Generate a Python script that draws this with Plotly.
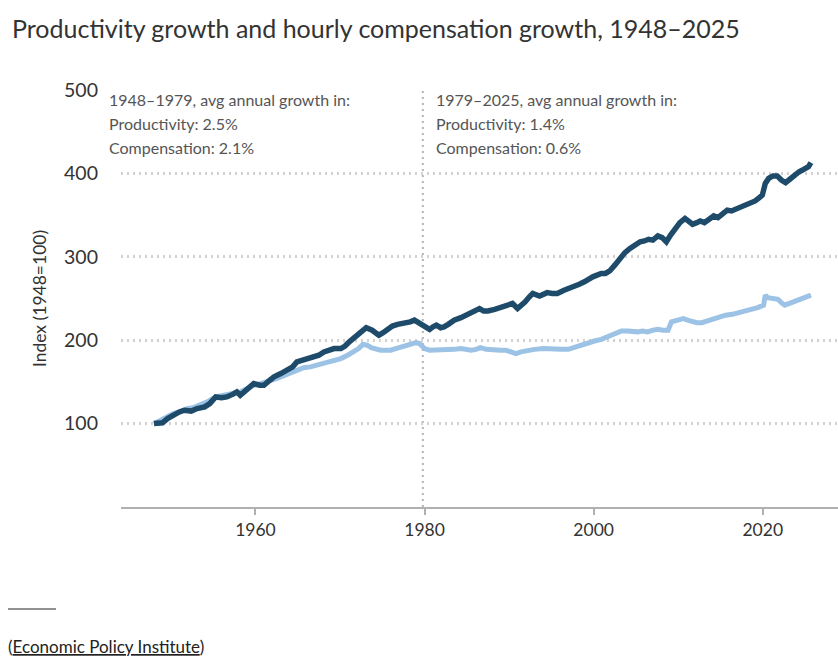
import plotly.graph_objects as go

# ---- data ----
prod_years = [1948.0, 1949.0, 1949.6, 1950.2, 1951.0, 1951.6, 1952.4, 1953.1, 1954.0, 1954.6,
              1955.3, 1956.0, 1956.6, 1957.3, 1957.8, 1958.2, 1959.0, 1959.8, 1960.5, 1961.0,
              1961.7, 1962.2, 1963.0, 1963.7, 1964.4, 1964.9, 1965.5, 1966.1, 1966.9, 1967.5,
              1968.1, 1968.7, 1969.3, 1970.1, 1970.6, 1971.1, 1971.6, 1972.1, 1972.6, 1973.1,
              1973.8, 1974.3, 1974.6, 1975.1, 1975.6, 1976.2, 1976.8, 1977.3, 1977.8, 1978.3,
              1978.8, 1979.3, 1979.8, 1980.2, 1980.6, 1981.0, 1981.4, 1981.9, 1982.3, 1982.8,
              1983.5, 1984.3, 1985.0, 1985.5, 1986.0, 1986.5, 1987.0, 1987.5, 1988.3, 1989.0,
              1989.5, 1990.0, 1990.4, 1991.0, 1991.5, 1991.9, 1992.4, 1992.8, 1993.6, 1994.1,
              1994.5, 1995.1, 1995.7, 1996.5, 1997.1, 1997.7, 1998.3, 1998.9, 1999.4, 1999.9,
              2000.4, 2000.9, 2001.4, 2001.9, 2002.5, 2003.1, 2003.7, 2004.3, 2004.9, 2005.5,
              2006.0, 2006.5, 2007.0, 2007.6, 2008.1, 2008.6, 2009.1, 2009.6, 2010.2, 2010.8,
              2011.3, 2011.7, 2012.2, 2012.6, 2013.1, 2013.6, 2014.2, 2014.7, 2015.2, 2015.8,
              2016.3, 2016.8, 2017.4, 2018.0, 2018.6, 2019.1, 2019.6, 2019.95, 2020.3, 2020.7,
              2021.2, 2021.7, 2022.2, 2022.7, 2023.2, 2023.6, 2023.9, 2024.3, 2024.7, 2025.1,
              2025.4, 2025.7]
productivity = [100, 101, 106, 110, 114, 116, 115, 118, 120, 124,
                132, 131, 132, 135, 138, 134, 142, 148, 146, 146,
                152, 156, 160, 164, 168, 174, 176, 178, 180, 182,
                186, 188, 190, 190, 193, 198, 202, 206, 210, 215,
                212, 208, 206, 209, 213, 217, 219, 220, 220, 222,
                224, 221, 218, 214, 213, 216, 218, 215, 216, 219,
                224, 227, 230, 232, 235, 238, 235, 235, 237, 239,
                240, 242, 244, 238, 242, 246, 252, 256, 253, 256,
                257, 256, 256, 260, 262, 264, 267, 270, 274, 276,
                278, 280, 280, 283, 290, 298, 305, 310, 314, 318,
                319, 321, 320, 325, 323, 318, 326, 334, 341, 346,
                341, 339, 341, 343, 341, 345, 349, 347, 352, 356,
                355, 357, 360, 363, 365, 367, 371, 374, 388, 394,
                397, 397, 392, 389, 393, 397, 399, 402, 404, 406,
                408, 413]

comp_years = [1948.0, 1948.6, 1949.1, 1949.7, 1950.3, 1951.0, 1951.9, 1952.6, 1953.5, 1954.3,
              1955.3, 1956.1, 1957.0, 1957.6, 1958.2, 1959.0, 1959.8, 1960.6, 1961.4, 1962.2,
              1963.0, 1963.9, 1964.9, 1965.7, 1966.5, 1967.3, 1968.1, 1969.0, 1970.1, 1970.9,
              1971.7, 1972.2, 1972.7, 1973.2, 1973.7, 1974.2, 1974.8, 1975.4, 1976.0, 1976.6,
              1977.2, 1977.8, 1978.4, 1979.0, 1979.4, 1980.0, 1980.6, 1981.3, 1981.9, 1982.6,
              1983.5, 1984.3, 1985.0, 1985.5, 1986.1, 1986.6, 1987.3, 1988.2, 1989.0, 1989.6,
              1990.2, 1990.8, 1991.4, 1992.2, 1993.0, 1994.1, 1995.0, 1996.1, 1997.0, 1997.6,
              1998.5, 1999.3, 2000.1, 2000.9, 2001.7, 2002.5, 2003.3, 2004.0, 2004.5, 2005.2,
              2005.8, 2006.4, 2007.0, 2007.6, 2008.2, 2008.8, 2009.2, 2009.8, 2010.6, 2011.1,
              2011.6, 2012.2, 2012.8, 2013.4, 2014.0, 2014.8, 2015.6, 2016.4, 2017.2, 2018.0,
              2018.7, 2019.4, 2020.1, 2020.3, 2020.6, 2021.1, 2021.8, 2022.2, 2022.6, 2023.4,
              2024.2, 2025.0, 2025.7]
compensation = [100, 103, 106, 110, 112, 114, 118, 119, 122, 126,
                132, 134, 136, 137, 138, 142, 146, 148, 150, 153,
                156, 160, 164, 167, 168, 170, 172, 175, 178, 182,
                186, 190, 195, 194, 191, 189, 188, 188, 188, 190,
                192, 194, 196, 197, 196, 190, 188, 188, 188, 188,
                189, 190, 189, 188, 189, 191, 189, 188, 188, 188,
                186, 184, 186, 188, 189, 190, 189, 189, 189, 191,
                195, 197, 199, 201, 204, 208, 211, 211, 210, 210,
                211, 210, 212, 213, 212, 212, 222, 224, 226, 224,
                222, 221, 221, 223, 225, 227, 230, 231, 233, 235,
                237, 239, 242, 254, 251, 250, 249, 245, 242, 245,
                248, 251, 254]

y_ticks = [100, 200, 300, 400, 500]
x_ticks = [1960, 1980, 2000, 2020]
split_year = 1979.8

title_text = "Productivity growth and hourly compensation growth, 1948\u20132025"
left_note = ["1948\u20131979, avg annual growth in:", "Productivity: 2.5%", "Compensation: 2.1%"]
right_note = ["1979\u20132025, avg annual growth in:", "Productivity: 1.4%", "Compensation: 0.6%"]
source_text = "(<u>Economic Policy Institute</u>)"

FONT = "Lato"
W, H = 838, 658
L, R, T, B = 121, 0, 90, 151
PW, PH = W - L - R, H - T - B

def px_x(px):
    return (px - L) / PW

def px_y(py):
    return (H - B - py) / PH

fig = go.Figure()
fig.add_trace(go.Scatter(x=comp_years, y=compensation, mode="lines",
                         line=dict(color="#9cc2e5", width=5), name="Compensation",
                         hoverinfo="skip"))
fig.add_trace(go.Scatter(x=prod_years, y=productivity, mode="lines",
                         line=dict(color="#1f4b6b", width=5.5), name="Productivity",
                         hoverinfo="skip"))

# vertical divider
fig.add_shape(type="line", x0=split_year, x1=split_year, y0=0, y1=500,
              xref="x", yref="y", line=dict(color="#b5b5b5", width=2, dash="2px,4px"),
              layer="below")

# annotations
for i, t in enumerate(left_note):
    fig.add_annotation(text=t, xref="paper", yref="paper", x=px_x(107), y=px_y(100 + i * 23.5),
                       xanchor="left", yanchor="middle", showarrow=False,
                       font=dict(family=FONT, size=16, color="#555555"))
for i, t in enumerate(right_note):
    fig.add_annotation(text=t, xref="paper", yref="paper", x=px_x(434), y=px_y(100 + i * 23.5),
                       xanchor="left", yanchor="middle", showarrow=False,
                       font=dict(family=FONT, size=16, color="#555555"))

# title
fig.add_annotation(text=title_text, xref="paper", yref="paper", x=px_x(10), y=px_y(28),
                   xanchor="left", yanchor="middle", showarrow=False,
                   font=dict(family=FONT, size=25, color="#333333"))

# footer rule and source
fig.add_shape(type="line", xref="paper", yref="paper", x0=px_x(8), x1=px_x(56),
              y0=px_y(609), y1=px_y(609), line=dict(color="#222222", width=1))
fig.add_annotation(text=source_text, xref="paper", yref="paper", x=px_x(6), y=px_y(646),
                   xanchor="left", yanchor="middle", showarrow=False,
                   font=dict(family=FONT, size=17, color="#222222"))

fig.update_layout(
    width=W, height=H,
    margin=dict(l=L, r=R, t=T, b=B, pad=0),
    paper_bgcolor="white", plot_bgcolor="white",
    showlegend=False,
    font=dict(family=FONT, color="#333333"),
    xaxis=dict(range=[1944.1, 2028.9], tickvals=x_ticks, showgrid=False, zeroline=False,
               showline=True, linecolor="#b0b0b0", linewidth=2,
               ticks="outside", ticklen=6, tickwidth=1.5, tickcolor="#b0b0b0",
               tickfont=dict(family=FONT, size=17.5, color="#333333")),
    yaxis=dict(range=[0, 500], tickvals=y_ticks, showgrid=True, gridcolor="#d2d2d2",
               gridwidth=2.5, griddash="2px,4px", zeroline=False, showline=False, ticks="",
               ticklabelstandoff=22,
               tickfont=dict(family=FONT, size=19.5, color="#333333"),
               title=dict(text="Index (1948=100)", standoff=12,
                          font=dict(family=FONT, size=17.5, color="#333333"))),
)

fig.write_html("out.html", config={"displayModeBar": False},
               post_script="document.body.style.margin='0px';document.body.style.overflow='hidden';")
